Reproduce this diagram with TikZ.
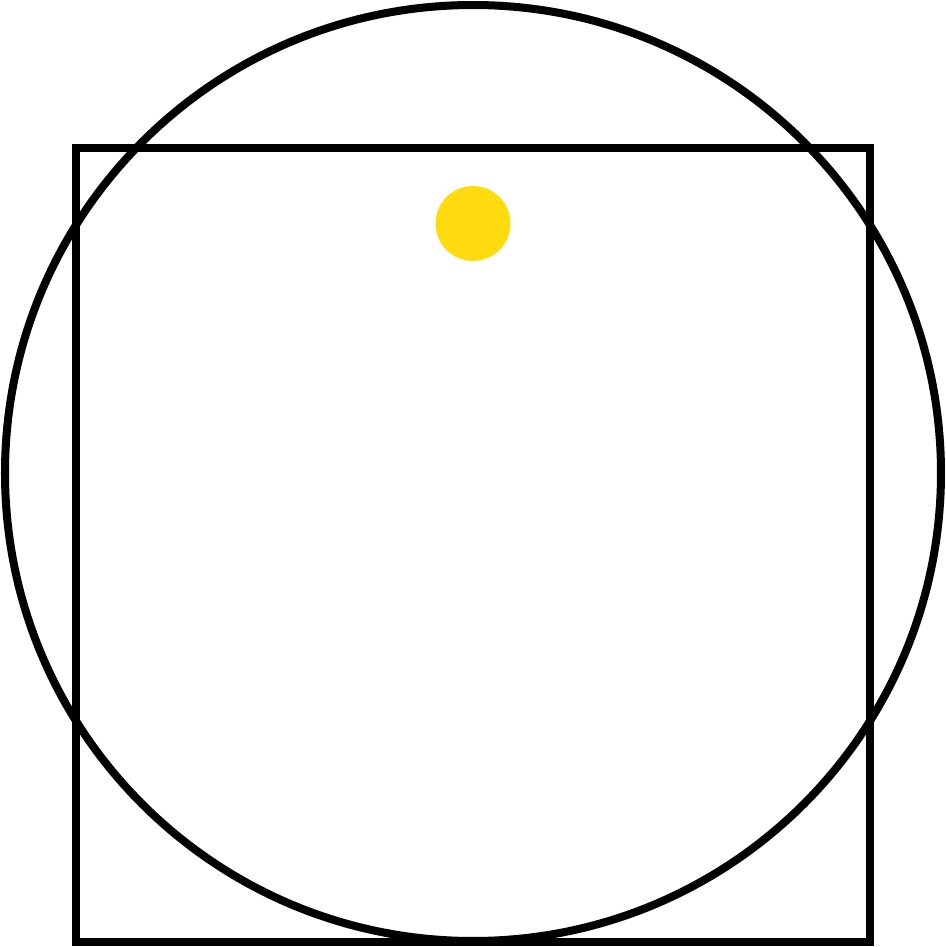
\documentclass[tikz,border=0pt]{standalone}
\definecolor{dotyellow}{RGB}{255,219,15}

\begin{document}
\begin{tikzpicture}[x=0.01cm,y=0.01cm,every path/.style={line width=0.08cm}]
\useasboundingbox (0,0) rectangle (946,947);
\draw[black] (473,474) circle (468);
\draw[black] (76,5) rectangle (870,799);
\fill[dotyellow] (473,723.5) circle (37.5);
\end{tikzpicture}
\end{document}
